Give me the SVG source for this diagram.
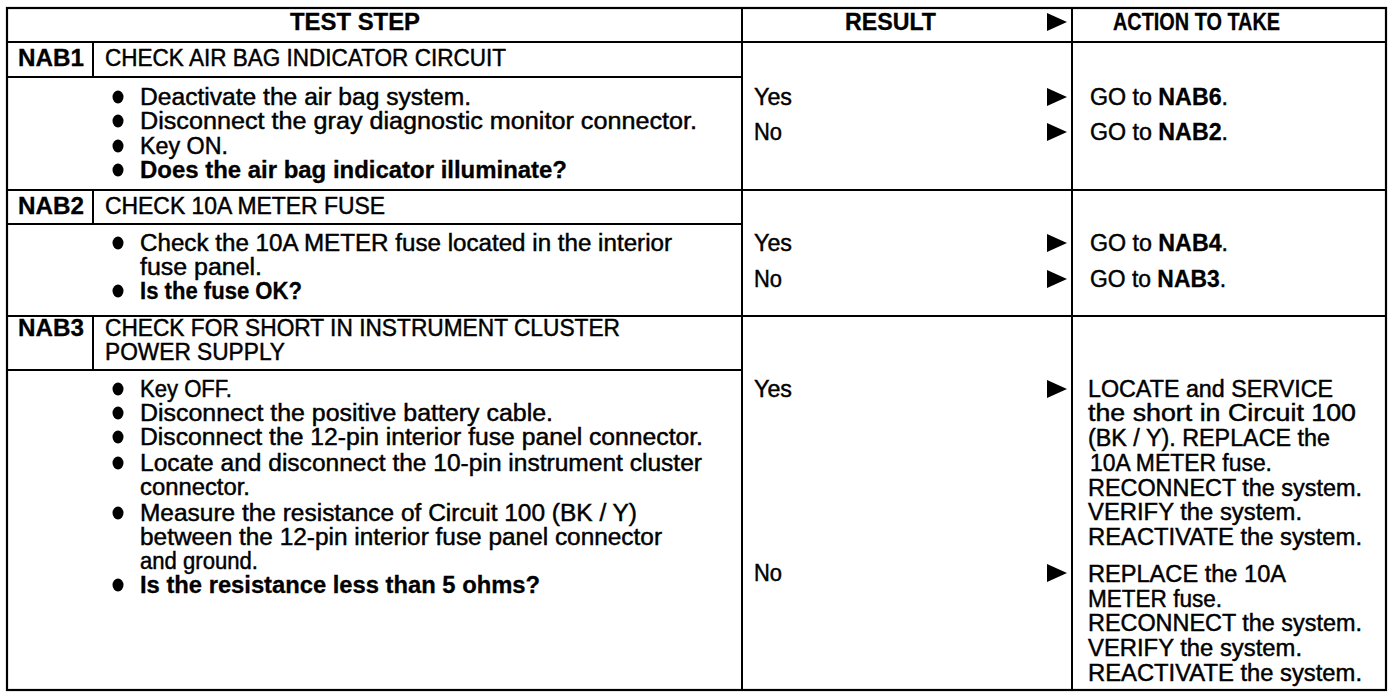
<svg xmlns="http://www.w3.org/2000/svg" width="1392" height="700" viewBox="0 0 1392 700">
<style>
  text { font-family: "Liberation Sans", Arial, Helvetica, sans-serif; font-size: 23px; fill: #000; stroke: #000; stroke-width: 0.45px; }
  .b { font-weight: bold; stroke-width: 0.3px; }
  .ln { stroke: #000; stroke-width: 2; fill: none; }
  .frame { stroke: #000; stroke-width: 2.2; fill: #fff; }
  .arrow { fill: #000; }
  .dot { fill: #000; }
</style>
<defs>
  <polygon id="tri" points="0,-9 20,0 0,9"/>
  <ellipse id="bul" cx="0" cy="0" rx="5.5" ry="6.5"/>
</defs>
<rect width="1392" height="700" fill="#fff"/>

<g id="grid">
  <rect class="frame" x="7" y="8" width="1379" height="682"/>
  <line class="ln" x1="7" y1="42" x2="1386" y2="42"/>
  <line class="ln" x1="742" y1="8" x2="742" y2="690"/>
  <line class="ln" x1="1072" y1="8" x2="1072" y2="690"/>
  <line class="ln" x1="7" y1="190" x2="1386" y2="190"/>
  <line class="ln" x1="7" y1="316" x2="1386" y2="316"/>
  <line class="ln" x1="7" y1="77" x2="742" y2="77"/>
  <line class="ln" x1="7" y1="224" x2="742" y2="224"/>
  <line class="ln" x1="7" y1="370" x2="742" y2="370"/>
  <line class="ln" x1="93" y1="42" x2="93" y2="77"/>
  <line class="ln" x1="93" y1="190" x2="93" y2="224"/>
  <line class="ln" x1="93" y1="316" x2="93" y2="370"/>
</g>

<g id="header">
  <text class="b" x="290" y="30" textLength="130" lengthAdjust="spacingAndGlyphs">TEST STEP</text>
  <text class="b" x="845" y="30" textLength="91" lengthAdjust="spacingAndGlyphs">RESULT</text>
  <text class="b" x="1113" y="30" textLength="167" lengthAdjust="spacingAndGlyphs">ACTION TO TAKE</text>
</g>

<g id="nab1">
  <text class="b" x="18" y="66" textLength="66" lengthAdjust="spacingAndGlyphs">NAB1</text>
  <text x="105" y="66" textLength="401" lengthAdjust="spacingAndGlyphs">CHECK AIR BAG INDICATOR CIRCUIT</text>
  <use href="#bul" x="118" y="97" class="dot"/>
  <use href="#bul" x="118" y="121" class="dot"/>
  <use href="#bul" x="118" y="146" class="dot"/>
  <use href="#bul" x="118" y="170" class="dot"/>
  <text x="140" y="105" textLength="331" lengthAdjust="spacingAndGlyphs">Deactivate the air bag system.</text>
  <text x="140" y="129" textLength="557" lengthAdjust="spacingAndGlyphs">Disconnect the gray diagnostic monitor connector.</text>
  <text x="140" y="154" textLength="88" lengthAdjust="spacingAndGlyphs">Key ON.</text>
  <text class="b" x="140" y="178" textLength="427" lengthAdjust="spacingAndGlyphs">Does the air bag indicator illuminate?</text>
  <text x="754" y="105" textLength="38" lengthAdjust="spacingAndGlyphs">Yes</text>
  <text x="754" y="140" textLength="28" lengthAdjust="spacingAndGlyphs">No</text>
  <text x="1090" y="105" textLength="138" lengthAdjust="spacingAndGlyphs">GO to <tspan class="b">NAB6</tspan>.</text>
  <text x="1090" y="140" textLength="138" lengthAdjust="spacingAndGlyphs">GO to <tspan class="b">NAB2</tspan>.</text>
</g>

<g id="nab2">
  <text class="b" x="18" y="214" textLength="66" lengthAdjust="spacingAndGlyphs">NAB2</text>
  <text x="105" y="214" textLength="280" lengthAdjust="spacingAndGlyphs">CHECK 10A METER FUSE</text>
  <use href="#bul" x="118" y="243" class="dot"/>
  <use href="#bul" x="118" y="291" class="dot"/>
  <text x="140" y="251" textLength="532" lengthAdjust="spacingAndGlyphs">Check the 10A METER fuse located in the interior</text>
  <text x="140" y="275" textLength="122" lengthAdjust="spacingAndGlyphs">fuse panel.</text>
  <text class="b" x="140" y="299" textLength="162" lengthAdjust="spacingAndGlyphs">Is the fuse OK?</text>
  <text x="754" y="251" textLength="38" lengthAdjust="spacingAndGlyphs">Yes</text>
  <text x="754" y="287" textLength="28" lengthAdjust="spacingAndGlyphs">No</text>
  <text x="1090" y="251" textLength="138" lengthAdjust="spacingAndGlyphs">GO to <tspan class="b">NAB4</tspan>.</text>
  <text x="1090" y="287" textLength="136" lengthAdjust="spacingAndGlyphs">GO to <tspan class="b">NAB3</tspan>.</text>
</g>

<g id="nab3">
  <text class="b" x="18" y="336" textLength="66" lengthAdjust="spacingAndGlyphs">NAB3</text>
  <text x="105" y="336" textLength="515" lengthAdjust="spacingAndGlyphs">CHECK FOR SHORT IN INSTRUMENT CLUSTER</text>
  <text x="105" y="360" textLength="180" lengthAdjust="spacingAndGlyphs">POWER SUPPLY</text>
  <use href="#bul" x="118" y="389" class="dot"/>
  <use href="#bul" x="118" y="413" class="dot"/>
  <use href="#bul" x="118" y="437" class="dot"/>
  <use href="#bul" x="118" y="463" class="dot"/>
  <use href="#bul" x="118" y="513" class="dot"/>
  <use href="#bul" x="118" y="585" class="dot"/>
  <text x="140" y="397" textLength="92" lengthAdjust="spacingAndGlyphs">Key OFF.</text>
  <text x="140" y="421" textLength="413" lengthAdjust="spacingAndGlyphs">Disconnect the positive battery cable.</text>
  <text x="140" y="445" textLength="563" lengthAdjust="spacingAndGlyphs">Disconnect the 12-pin interior fuse panel connector.</text>
  <text x="140" y="471" textLength="562" lengthAdjust="spacingAndGlyphs">Locate and disconnect the 10-pin instrument cluster</text>
  <text x="140" y="495" textLength="110" lengthAdjust="spacingAndGlyphs">connector.</text>
  <text x="140" y="521" textLength="497" lengthAdjust="spacingAndGlyphs">Measure the resistance of Circuit 100 (BK / Y)</text>
  <text x="140" y="545" textLength="522" lengthAdjust="spacingAndGlyphs">between the 12-pin interior fuse panel connector</text>
  <text x="140" y="569" textLength="118" lengthAdjust="spacingAndGlyphs">and ground.</text>
  <text class="b" x="140" y="593" textLength="400" lengthAdjust="spacingAndGlyphs">Is the resistance less than 5 ohms?</text>
  <text x="754" y="397" textLength="38" lengthAdjust="spacingAndGlyphs">Yes</text>
  <text x="754" y="581" textLength="28" lengthAdjust="spacingAndGlyphs">No</text>
  <text x="1088" y="397" textLength="245" lengthAdjust="spacingAndGlyphs">LOCATE and SERVICE</text>
  <text x="1088" y="421" textLength="268" lengthAdjust="spacingAndGlyphs">the short in Circuit 100</text>
  <text x="1088" y="446" textLength="242" lengthAdjust="spacingAndGlyphs">(BK / Y). REPLACE the</text>
  <text x="1090" y="471" textLength="182" lengthAdjust="spacingAndGlyphs">10A METER fuse.</text>
  <text x="1088" y="496" textLength="274" lengthAdjust="spacingAndGlyphs">RECONNECT the system.</text>
  <text x="1088" y="520" textLength="214" lengthAdjust="spacingAndGlyphs">VERIFY the system.</text>
  <text x="1088" y="545" textLength="274" lengthAdjust="spacingAndGlyphs">REACTIVATE the system.</text>
  <text x="1088" y="582" textLength="198" lengthAdjust="spacingAndGlyphs">REPLACE the 10A</text>
  <text x="1088" y="607" textLength="134" lengthAdjust="spacingAndGlyphs">METER fuse.</text>
  <text x="1088" y="631" textLength="274" lengthAdjust="spacingAndGlyphs">RECONNECT the system.</text>
  <text x="1088" y="656" textLength="214" lengthAdjust="spacingAndGlyphs">VERIFY the system.</text>
  <text x="1088" y="681" textLength="274" lengthAdjust="spacingAndGlyphs">REACTIVATE the system.</text>
</g>

<g id="connectors">
  <use href="#tri" x="1047" y="22" class="arrow"/>
  <use href="#tri" x="1047" y="97" class="arrow"/>
  <use href="#tri" x="1047" y="132" class="arrow"/>
  <use href="#tri" x="1047" y="243" class="arrow"/>
  <use href="#tri" x="1047" y="279" class="arrow"/>
  <use href="#tri" x="1047" y="389" class="arrow"/>
  <use href="#tri" x="1047" y="573" class="arrow"/>
</g>
</svg>
